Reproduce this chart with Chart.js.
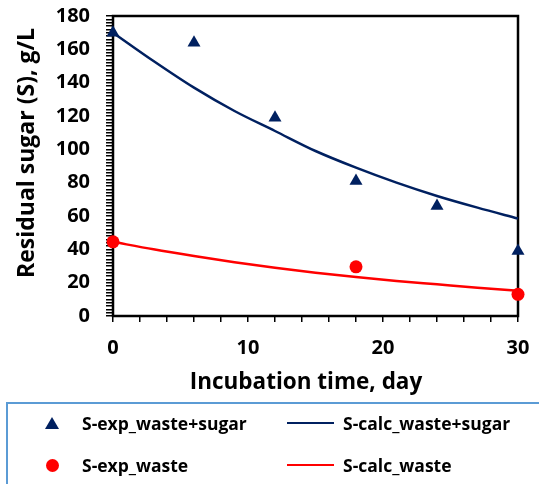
<!DOCTYPE html>
<html lang="en">
<head>
    <meta charset="UTF-8">
    <title>Residual sugar vs incubation time</title>
    <script src="https://cdn.jsdelivr.net/npm/chart.js"></script>
    <style>
        body {
            margin: 0;
            background-color: #fff;
            font-family: "Open Sans", sans-serif;
        }
        .contenedor {
            position: relative;
            width: 539px;
            height: 484px;
            overflow: hidden;
        }
        #grafico {
            position: absolute;
            left: 0;
            top: 0;
        }
        .marco {
            position: absolute;
            left: 6px;
            top: 402px;
            width: 560px;
            height: 120px;
            border: 2px solid #5b9bd5;
            box-sizing: border-box;
        }
        .texto {
            position: absolute;
            font-weight: bold;
            font-size: 17.5px;
            line-height: 20px;
            color: #000;
            white-space: nowrap;
        }
        .linea {
            position: absolute;
            width: 47px;
            height: 2px;
        }
        .circulo {
            position: absolute;
            width: 13px;
            height: 13px;
            border-radius: 50%;
        }
        .triangulo {
            position: absolute;
            width: 0;
            height: 0;
            border-left: 7px solid transparent;
            border-right: 7px solid transparent;
        }
    </style>
</head>
<body>

<div class="contenedor">
    <canvas id="grafico" width="539" height="484"></canvas>
    <div class="marco"></div>
    <div id="leyenda"></div>
</div>

<script>
    // datos experimentales
    const diasExpSugar = [0, 6, 12, 18, 24, 30];
    const sExpSugar = [170, 164, 119, 81, 66, 39];
    const diasExpWaste = [0, 18, 30];
    const sExpWaste = [44.5, 29.5, 13];

    // curvas calculadas
    const diasCalc = [0, 3, 6, 9, 12, 15, 18, 21, 24, 27, 30];
    const sCalcSugar = [170, 153, 137, 123, 111, 99, 89, 80, 72, 65, 58.5];
    const sCalcWaste = [44.5, 40, 36, 32.3, 29, 26, 23.4, 21, 19, 17, 15.2];

    const etiquetas = ['S-exp_waste+sugar', 'S-calc_waste+sugar', 'S-exp_waste', 'S-calc_waste'];
    const colores = ['#002060', '#002060', '#ff0000', '#ff0000'];

    const tituloX = 'Incubation time, day';
    const tituloY = 'Residual sugar (S), g/L';

    function pares(xs, ys) {
        return xs.map((x, i) => ({ x: x, y: ys[i] }));
    }

    // marco negro alrededor del area del grafico
    const marcoPlugin = {
        id: 'marco',
        beforeDatasetsDraw(chart) {
            const a = chart.chartArea;
            const ctx = chart.ctx;
            ctx.save();
            ctx.strokeStyle = '#000';
            ctx.lineWidth = 2.5;
            ctx.strokeRect(a.left, a.top, a.right - a.left, a.bottom - a.top);
            ctx.restore();
        }
    };

    // titulos de ejes
    const titulosPlugin = {
        id: 'titulos',
        afterDraw(chart) {
            const ctx = chart.ctx;
            ctx.save();
            ctx.fillStyle = '#000';
            ctx.font = 'bold 22.5px "Open Sans"';
            ctx.textAlign = 'center';
            ctx.textBaseline = 'middle';
            ctx.fillText(tituloX, 306, 383);
            ctx.font = 'bold 23px "Open Sans"';
            ctx.translate(27, 153);
            ctx.rotate(-Math.PI / 2);
            ctx.fillText(tituloY, 0, 0);
            ctx.restore();
        }
    };

    const fuenteTicks = { family: 'Open Sans', size: 20, weight: 'bold' };

    const ctx = document.getElementById('grafico').getContext('2d');
    const chart = new Chart(ctx, {
        type: 'line',
        data: {
            datasets: [
                {
                    label: etiquetas[0],
                    data: pares(diasExpSugar, sExpSugar),
                    showLine: false,
                    pointStyle: 'triangle',
                    pointRadius: 7.5,
                    backgroundColor: colores[0],
                    borderColor: colores[0],
                    borderWidth: 0,
                    order: 0
                },
                {
                    label: etiquetas[1],
                    data: pares(diasCalc, sCalcSugar),
                    borderColor: colores[1],
                    borderWidth: 2.5,
                    pointRadius: 0,
                    cubicInterpolationMode: 'monotone',
                    order: 2
                },
                {
                    label: etiquetas[2],
                    data: pares(diasExpWaste, sExpWaste),
                    showLine: false,
                    pointStyle: 'circle',
                    pointRadius: 6.5,
                    backgroundColor: colores[2],
                    borderColor: colores[2],
                    borderWidth: 0,
                    order: 1
                },
                {
                    label: etiquetas[3],
                    data: pares(diasCalc, sCalcWaste),
                    borderColor: colores[3],
                    borderWidth: 2.5,
                    pointRadius: 0,
                    cubicInterpolationMode: 'monotone',
                    order: 3
                }
            ]
        },
        options: {
            responsive: false,
            animation: false,
            clip: false,
            layout: {
                padding: { left: 0, right: 21, top: 16, bottom: 88 }
            },
            plugins: {
                legend: { display: false },
                tooltip: { enabled: false }
            },
            scales: {
                x: {
                    type: 'linear',
                    min: 0,
                    max: 30,
                    afterFit(scale) {
                        scale.height = 80;
                        scale.paddingLeft = 0;
                        scale.paddingRight = 0;
                    },
                    border: { display: false },
                    grid: {
                        drawOnChartArea: false,
                        drawTicks: true,
                        tickLength: 6,
                        color: '#000',
                        lineWidth: 1.5
                    },
                    ticks: {
                        stepSize: 2,
                        autoSkip: false,
                        maxRotation: 0,
                        padding: 14,
                        color: '#000',
                        font: fuenteTicks,
                        callback: (v) => (v % 10 === 0 ? v : '')
                    }
                },
                y: {
                    min: 0,
                    max: 180,
                    afterFit(scale) {
                        scale.width = 113;
                        scale.paddingTop = 0;
                        scale.paddingBottom = 0;
                    },
                    border: { display: false },
                    grid: {
                        drawOnChartArea: false,
                        drawTicks: true,
                        tickLength: 7,
                        color: '#000',
                        lineWidth: 1.5
                    },
                    ticks: {
                        stepSize: 2,
                        autoSkip: false,
                        padding: 16,
                        color: '#000',
                        font: fuenteTicks,
                        callback: (v) => (v % 20 === 0 ? v : '')
                    }
                }
            }
        },
        plugins: [marcoPlugin, titulosPlugin]
    });

    // leyenda en HTML, dos columnas
    const leyenda = document.getElementById('leyenda');
    const filas = [423, 465];
    function agregar(html) {
        leyenda.insertAdjacentHTML('beforeend', html);
    }
    // fila 1
    agregar(`<div class="triangulo" style="left:45px;top:${filas[0] - 6}px;border-bottom:12px solid ${colores[0]}"></div>`);
    agregar(`<div class="texto" style="left:82px;top:${filas[0] - 10}px">${etiquetas[0]}</div>`);
    agregar(`<div class="linea" style="left:287px;top:${filas[0] - 1}px;background:${colores[1]}"></div>`);
    agregar(`<div class="texto" style="left:343px;top:${filas[0] - 10}px">${etiquetas[1]}</div>`);
    // fila 2
    agregar(`<div class="circulo" style="left:46px;top:${filas[1] - 6}px;background:${colores[2]}"></div>`);
    agregar(`<div class="texto" style="left:82px;top:${filas[1] - 10}px">${etiquetas[2]}</div>`);
    agregar(`<div class="linea" style="left:287px;top:${filas[1] - 1}px;background:${colores[3]}"></div>`);
    agregar(`<div class="texto" style="left:343px;top:${filas[1] - 10}px">${etiquetas[3]}</div>`);
</script>

</body>
</html>
